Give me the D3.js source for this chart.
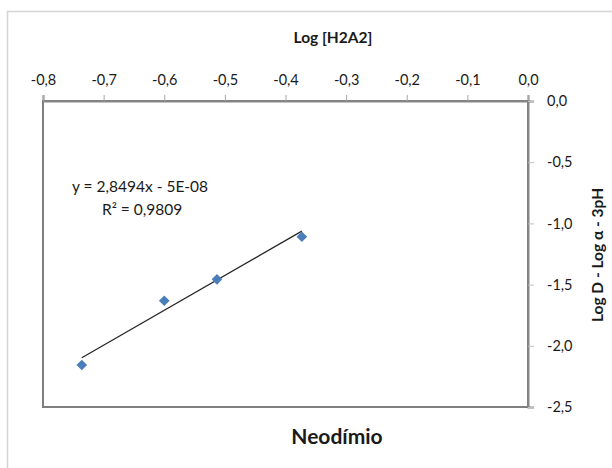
<!DOCTYPE html>
<html>
<head>
<meta charset="utf-8">
<script src="https://cdn.jsdelivr.net/npm/d3@7.9.0/dist/d3.min.js"></script>
<style>
  body { margin: 0; background: #fff; }
  svg text { font-family: Lato, "Open Sans", sans-serif; fill: #1a1a1a; }
</style>
</head>
<body>
<svg id="chart" width="612" height="468"></svg>
<script>
// data
const logH2A2 = [-0.736, -0.600, -0.513, -0.373];
const logD = [-2.157, -1.632, -1.457, -1.109];
const xTicks = [-0.8, -0.7, -0.6, -0.5, -0.4, -0.3, -0.2, -0.1, 0.0];
const yTicks = [0.0, -0.5, -1.0, -1.5, -2.0, -2.5];
const slope = 2.8494;
const intercept = -5e-8;
const eqLines = ['y = 2,8494x - 5E-08', 'R² = 0,9809'];

const svg = d3.select('#chart');
const fmt = (d) => d3.format('.1f')(d).replace('.', ',').replace('−', '-');

// outer chart frame
svg.append('rect')
    .attr('x', 7.5).attr('y', 11.5)
    .attr('width', 620).attr('height', 470)
    .attr('fill', 'none').attr('stroke', '#d4d4d4').attr('stroke-width', 1.5);

let x = d3.scaleLinear().domain([-0.8, 0]).range([43, 528]);
let y = d3.scaleLinear().domain([-2.5, 0]).range([407, 101]);

// plot area border
svg.append('rect')
    .attr('x', 43).attr('y', 101)
    .attr('width', 485).attr('height', 306)
    .attr('fill', 'none').attr('stroke', '#7f7f7f').attr('stroke-width', 2);

// top axis
let topAxis = svg.append('g').attr('transform', 'translate(0,101)')
    .call(d3.axisTop(x).tickValues(xTicks).tickFormat(fmt).tickSize(6).tickPadding(10));
topAxis.select('.domain').attr('stroke', '#868686').attr('stroke-width', 2);
topAxis.selectAll('.tick line').attr('stroke', '#a6a6a6');
topAxis.selectAll('text').style('font-size', '14.5px');

// right axis
let rightAxis = svg.append('g').attr('transform', 'translate(528,0)')
    .call(d3.axisRight(y).tickValues(yTicks).tickFormat(fmt).tickSize(6).tickPadding(13));
rightAxis.select('.domain').attr('stroke', '#868686').attr('stroke-width', 2);
rightAxis.selectAll('.tick line').attr('stroke', '#bfbfbf');
rightAxis.selectAll('text').style('font-size', '14.5px');

// trendline
let xr = d3.extent(logH2A2);
svg.append('line')
    .attr('x1', x(xr[0])).attr('y1', y(slope * xr[0] + intercept))
    .attr('x2', x(xr[1])).attr('y2', y(slope * xr[1] + intercept))
    .attr('stroke', '#262626').attr('stroke-width', 1.3);

// markers
svg.selectAll('.pt')
    .data(logH2A2.map((d, i) => [d, logD[i]]))
    .join('path')
    .attr('class', 'pt')
    .attr('d', d3.symbol(d3.symbolDiamond2, 72)())
    .attr('transform', (d) => `translate(${x(d[0])},${y(d[1])})`)
    .attr('fill', '#4a7ebb');

// trendline label
svg.append('text').attr('x', 72).attr('y', 192)
    .style('font-size', '15.5px').text(eqLines[0]);
svg.append('text').attr('x', 102).attr('y', 215)
    .style('font-size', '15.5px').text(eqLines[1]);

// titles
svg.append('text').attr('x', 333).attr('y', 43)
    .attr('text-anchor', 'middle')
    .style('font-size', '15.5px').style('font-weight', 'bold')
    .text('Log [H2A2]');

svg.append('text')
    .attr('transform', 'translate(603,255) rotate(-90)')
    .attr('text-anchor', 'middle')
    .style('font-size', '15.5px').style('font-weight', 'bold')
    .text('Log D - Log α - 3pH');

svg.append('text').attr('x', 337).attr('y', 444)
    .attr('text-anchor', 'middle')
    .style('font-size', '21px').style('font-weight', 'bold')
    .text('Neodímio');
</script>
</body>
</html>
